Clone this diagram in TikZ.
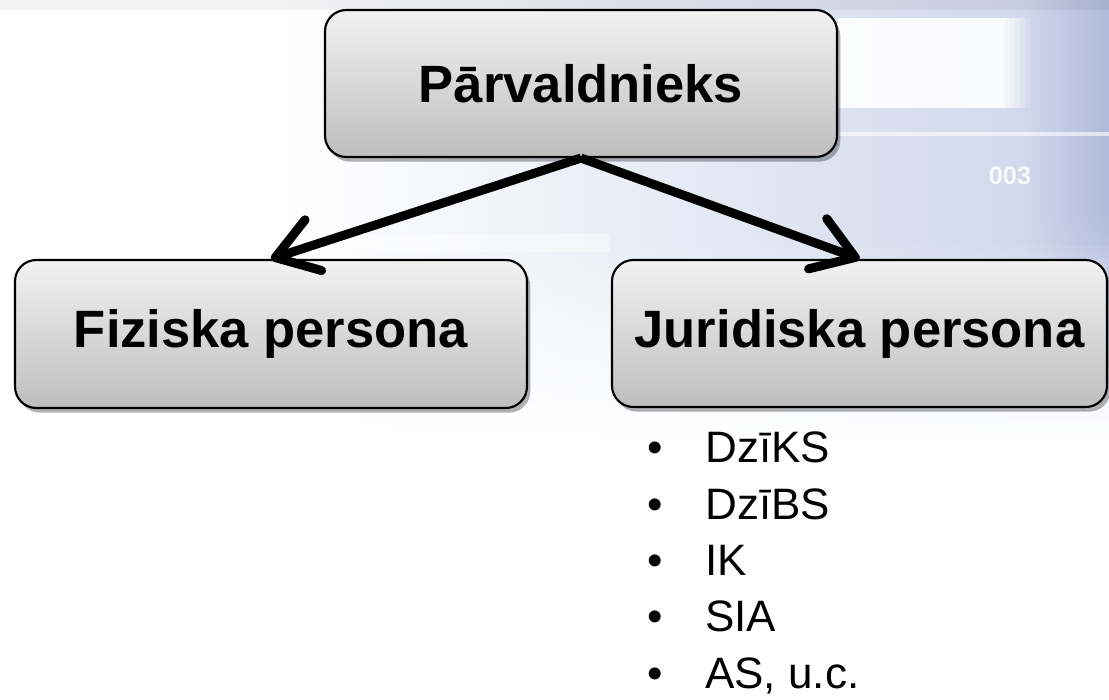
\documentclass[tikz,border=0pt]{standalone}
\usepackage{fontspec}
\setmainfont{Liberation Sans}
\usetikzlibrary{arrows.meta,shadows}
\definecolor{haze}{HTML}{D2D9EC}
\definecolor{hazedeep}{HTML}{AFBBDA}
\definecolor{boxtop}{HTML}{F2F2F2}
\definecolor{boxbot}{HTML}{BEBEBE}
\tikzset{
  box/.style={draw=black, line width=1.6pt, rounded corners=16pt,
    top color=boxtop, bottom color=boxbot,
    drop shadow={shadow xshift=2.5pt, shadow yshift=-3.5pt, opacity=0.3, fill=black},
    font=\fontsize{39.4}{46}\selectfont\bfseries, inner sep=0pt},
  conn/.style={line width=6.75pt, draw=black,
    -{Straight Barb[length=30pt, width=40pt, round]}},
  item/.style={anchor=base west, inner sep=0pt,
    font=\fontsize{33}{40}\selectfont}
}
\begin{document}
\begin{tikzpicture}[x=0.75pt, y=-0.75pt]
\useasboundingbox (0,0) rectangle (1109,699);
% slide background: a blue-grey haze on the right that thins out downwards,
% built from thin horizontal strips whose colours are mixed towards white
\fill[white] (0,0) rectangle (1109,699);
\foreach \y in {0,6,...,438} {
  \pgfmathtruncatemacro\pa{100*min(1,max(0,(440-\y)/200))}
  \pgfmathtruncatemacro\pb{100*min(1,max(0,(340-\y)/130))}
  \fill[left color=white, right color=haze!\pa!white] (280,\y) rectangle (1021,\y+6.4);
  \fill[left color=haze!\pa!white, right color=hazedeep!\pb!haze!\pa!white] (1020,\y) rectangle (1109,\y+6.4);
}
\fill[black, opacity=0.05] (0,0) rectangle (1109,10);
\fill[white, opacity=0.9] (838,18) rectangle (1000,108);
\foreach \x in {1000,1005,...,1025} {
  \pgfmathsetmacro\op{0.9*(1030-\x)/30}
  \fill[white, opacity=\op] (\x,18) rectangle (\x+5,108);
}
\fill[white, opacity=0.6] (838,132) rectangle (1109,136);
\fill[white, opacity=0.4] (300,234) rectangle (610,252);
\node[white, opacity=0.85, font=\fontsize{19}{22}\selectfont\bfseries] (tag) at (1010,176) {003};

% boxes
\node[box, minimum width=384pt, minimum height=110.25pt] (top) at (581,83.5) {Pārvaldnieks};
\node[box, minimum width=384pt, minimum height=111pt] (fiz) at (271,334) {Fiziska persona};
\node[box, minimum width=371.25pt, minimum height=110.25pt] (jur) at (859.5,333.5) {Juridiska persona};

% connectors
\draw[conn] (top.south) -- (fiz.north);
\draw[conn] (top.south) -- (jur.north);

% list under the legal-entity box
\node[item] (b1) at (647,462) {\makebox[43.5pt][l]{•}DzīKS};
\node[item] (b2) at (647,519) {\makebox[43.5pt][l]{•}DzīBS};
\node[item] (b3) at (647,575) {\makebox[43.5pt][l]{•}IK};
\node[item] (b4) at (647,631) {\makebox[43.5pt][l]{•}SIA};
\node[item] (b5) at (647,688) {\makebox[43.5pt][l]{•}AS, u.c.};
\end{tikzpicture}
\end{document}
